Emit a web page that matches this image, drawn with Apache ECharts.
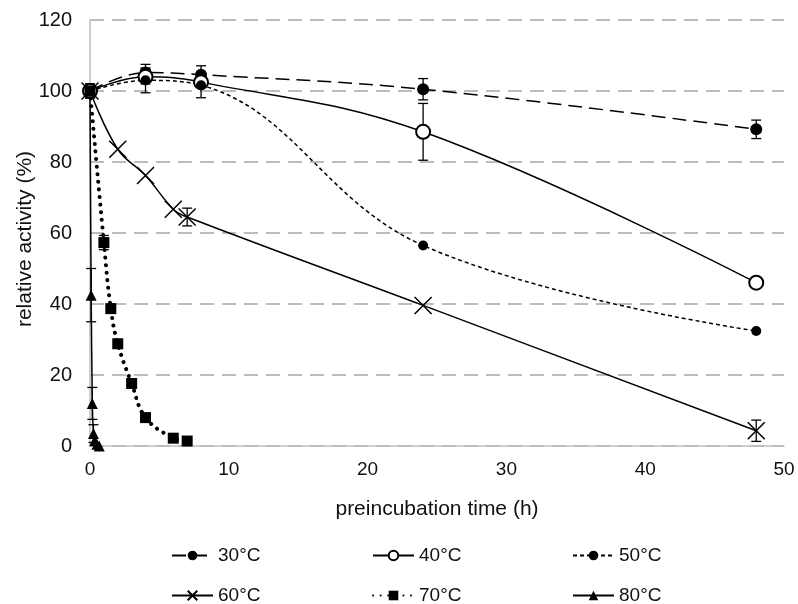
<!DOCTYPE html>
<html><head><meta charset="utf-8">
<script src="https://cdn.jsdelivr.net/npm/echarts@6/dist/echarts.min.js"></script>
<style>html,body{margin:0;padding:0;background:#fff}#c{width:798px;height:604px}</style>
</head><body><div id="c"></div>
<script>
// Data (x = preincubation time h, y = relative activity %)
const s30 = [[0,100],[4,105.2],[8,104.6],[24,100.5],[48,89.2]];
const s40 = [[0,100],[4,104],[8,102.5],[24,88.5],[48,46]];
const s50 = [[0,100],[4,103],[8,101.6],[24,56.5],[48,32.4]];
const s60 = [[0,100],[2,83.6],[4,76.2],[6,66.7],[7,64.5],[24,39.6],[48,4.3]];
const s70 = [[0,100],[1,57.3],[1.5,38.7],[2,28.8],[3,17.6],[4,8],[6,2.2],[7,1.4]];
const s80 = [[0,100],[0.083,42.5],[0.167,12],[0.25,3.5],[0.333,1.5],[0.5,0.5],[0.667,0]];
// error bars: [x, y, err]
const e30 = [[0,100,2],[4,105.2,2.3],[8,104.6,2.5],[24,100.5,3],[48,89.2,2.6]];
const e40 = [[0,100,2],[4,104,2],[24,88.5,8],[48,46,1.2]];
const e50 = [[4,103,3.5],[8,101.6,3.5]];
const e60 = [[7,64.5,2.5],[48,4.3,3]];
const e70 = [[1,57.3,2]];
const e80 = [[0.083,42.5,7.5],[0.167,12,4.5],[0.25,3.5,2.5]];
const names = ['30°C','40°C','50°C','60°C','70°C','80°C'];
const xTicks = [0,10,20,30,40,50];
const yTicks = [0,20,40,60,80,100,120];

const font = 'Liberation Sans, Arial, sans-serif';
const cross = 'path://M0,0L10,10M10,0L0,10';

function errSeries(data){
  return {type:'custom', silent:true, z:1, data:data,
    renderItem:function(params, api){
      const x=api.value(0), y=api.value(1), e=api.value(2);
      const top=api.coord([x,y+e]), bot=api.coord([x,y-e]);
      const w=5;
      return {type:'group', children:[
        {type:'line', shape:{x1:top[0],y1:top[1],x2:bot[0],y2:bot[1]}, style:{stroke:'#000',lineWidth:1.3}},
        {type:'line', shape:{x1:top[0]-w,y1:top[1],x2:top[0]+w,y2:top[1]}, style:{stroke:'#000',lineWidth:1.3}},
        {type:'line', shape:{x1:bot[0]-w,y1:bot[1],x2:bot[0]+w,y2:bot[1]}, style:{stroke:'#000',lineWidth:1.3}}
      ]};
    }};
}

const chart = echarts.init(document.getElementById('c'));
const lineBase = {type:'line', smooth:0.4, z:3};
const legendPos = [[166,541],[367,541],[567,541],[166,581],[367,581],[567,581]];
chart.setOption({
  animation:false,
  textStyle:{fontFamily:font},
  grid:{left:90, right:14, top:20, bottom:158},
  legend: names.map((n,i)=>({data:[n], left:legendPos[i][0], top:legendPos[i][1], itemWidth:41, itemHeight:12, itemGap:4,
    textStyle:{fontSize:19, color:'#111', fontFamily:font}})),
  xAxis:{type:'value', min:0, max:50, interval:10,
    name:'preincubation time (h)', nameLocation:'middle', nameGap:53, nameMoveOverlap:false,
    nameTextStyle:{fontSize:21, color:'#111'},
    axisLine:{show:true, lineStyle:{color:'#bfbfbf', width:1.5}}, axisTick:{show:false},
    axisLabel:{fontSize:19, color:'#111', margin:14, formatter:v=>xTicks.includes(v)?String(v):''},
    splitLine:{show:false}},
  yAxis:{type:'value', min:0, max:120, interval:20,
    name:'relative activity (%)', nameLocation:'middle', nameGap:54, nameMoveOverlap:false,
    nameTextStyle:{fontSize:21, color:'#111', padding:[0,12,0,0]},
    axisLine:{show:true, lineStyle:{color:'#bfbfbf', width:1.5}}, axisTick:{show:false},
    axisLabel:{fontSize:20, color:'#111', margin:18, formatter:v=>yTicks.includes(v)?String(v):''},
    splitLine:{show:true, lineStyle:{color:'#a6a6a6', width:1.5, type:[14,8]}}},
  series:[
    Object.assign({}, lineBase, {name:names[0], data:s30, symbol:'circle', symbolSize:12,
      itemStyle:{color:'#000'}, lineStyle:{color:'#000', width:1.5, type:[14,7]}}),
    Object.assign({}, lineBase, {name:names[1], data:s40, symbol:'emptyCircle', symbolSize:14,
      itemStyle:{color:'#000', borderWidth:1.2}, lineStyle:{color:'#000', width:1.5}}),
    Object.assign({}, lineBase, {name:names[2], data:s50, symbol:'circle', symbolSize:10,
      itemStyle:{color:'#000'}, lineStyle:{color:'#000', width:1.5, type:[4,3]}}),
    Object.assign({}, lineBase, {name:names[3], data:s60, symbol:cross, symbolSize:17,
      itemStyle:{color:'#000', borderColor:'#000', borderWidth:1.5}, lineStyle:{color:'#000', width:1.5}}),
    Object.assign({}, lineBase, {name:names[4], data:s70, symbol:'rect', symbolSize:11,
      itemStyle:{color:'#000'}, lineStyle:{color:'#000', width:4, type:[0.1,7.5], cap:'round'}}),
    Object.assign({}, lineBase, {name:names[5], data:s80, symbol:'triangle', symbolSize:11, smooth:0.2,
      itemStyle:{color:'#000'}, lineStyle:{color:'#000', width:1.5}}),
    errSeries(e30), errSeries(e40), errSeries(e50), errSeries(e60), errSeries(e70), errSeries(e80)
  ]
});
</script></body></html>
